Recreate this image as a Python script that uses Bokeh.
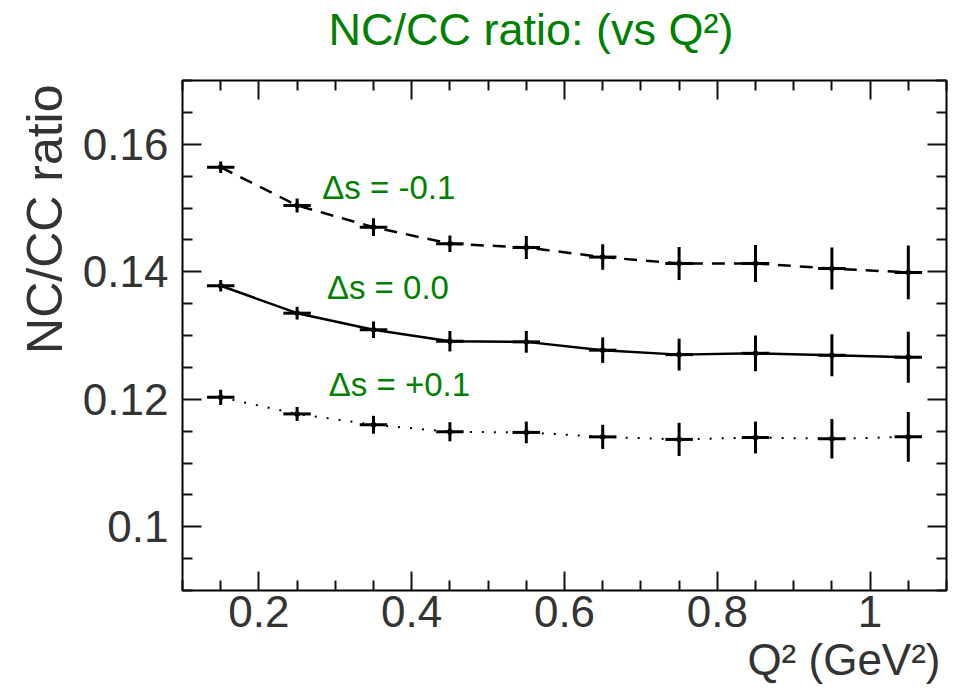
from bokeh.plotting import figure
from bokeh.models import (Range1d, LinearAxis, FixedTicker, CustomJSTickFormatter,
                          Label, Title)
from bokeh.embed import file_html
from bokeh.resources import INLINE

# ---- data ----
q2 = [0.15, 0.25, 0.35, 0.45, 0.55, 0.65, 0.75, 0.85, 0.95, 1.05]
q2_err = [0.018, 0.018, 0.018, 0.018, 0.018, 0.018, 0.018, 0.018, 0.018, 0.018]

ratio_minus = [0.1564, 0.1504, 0.1470, 0.1444, 0.1438, 0.1423, 0.1413, 0.1413, 0.1405, 0.1399]
err_minus = [0.0009, 0.0011, 0.0014, 0.0013, 0.0018, 0.0020, 0.0026, 0.0029, 0.0033, 0.0042]

ratio_zero = [0.1378, 0.1335, 0.1309, 0.1291, 0.1290, 0.1277, 0.1270, 0.1272, 0.1269, 0.1266]
err_zero = [0.0009, 0.0010, 0.0013, 0.0016, 0.0017, 0.0020, 0.0025, 0.0028, 0.0033, 0.0040]

ratio_plus = [0.1203, 0.1177, 0.1160, 0.1149, 0.1148, 0.1141, 0.1137, 0.1140, 0.1138, 0.1141]
err_plus = [0.0012, 0.0011, 0.0014, 0.0015, 0.0017, 0.0019, 0.0026, 0.0025, 0.0031, 0.0039]

series_labels = ["\u0394s = -0.1", "\u0394s = 0.0", "\u0394s = +0.1"]

x_major = [0.2, 0.4, 0.6, 0.8, 1.0]
x_minor = [0.1, 0.15, 0.25, 0.3, 0.35, 0.45, 0.5, 0.55, 0.65, 0.7, 0.75,
           0.85, 0.9, 0.95, 1.05, 1.1]
y_major = [0.10, 0.12, 0.14, 0.16]
y_minor = [0.09, 0.095, 0.105, 0.11, 0.115, 0.125, 0.13, 0.135, 0.145,
           0.15, 0.155, 0.165, 0.17]

GREEN = "#008000"
FONT = "Liberation Sans"
INK = "#333333"

p = figure(width=956, height=691, output_backend="svg", toolbar_location=None,
           x_range=Range1d(0.1, 1.1), y_range=Range1d(0.09, 0.17),
           min_border_left=182, min_border_right=10, min_border_top=80,
           min_border_bottom=101)
p.background_fill_color = "white"
p.border_fill_color = "white"
p.outline_line_color = "black"
p.outline_line_width = 2
p.xgrid.visible = False
p.ygrid.visible = False

# main title
p.title.text = "NC/CC ratio: (vs Q\u00b2)"
p.title.text_color = GREEN
p.title.text_font = FONT
p.title.text_font_size = "45px"
p.title.text_font_style = "normal"
p.title.align = "left"
p.title.offset = 146
p.title.standoff = 0

bottom_axis = p.below[0]
left_axis = p.left[0]
top_axis = LinearAxis()
right_axis = LinearAxis()
p.add_layout(top_axis, "above")
p.add_layout(right_axis, "right")

fmt = "return String(parseFloat(tick.toFixed(3)));"

def style_axis(ax, major, minor, labels, standoff):
    ax.ticker = FixedTicker(ticks=major, minor_ticks=minor)
    ax.major_tick_in = 19
    ax.major_tick_out = 0
    ax.minor_tick_in = 10
    ax.minor_tick_out = 0
    ax.major_tick_line_width = 2
    ax.minor_tick_line_width = 2
    ax.major_tick_line_color = "#111111"
    ax.minor_tick_line_color = "#111111"
    ax.axis_line_color = None
    ax.major_label_standoff = standoff
    if labels:
        ax.formatter = CustomJSTickFormatter(code=fmt)
        ax.major_label_text_font = FONT
        ax.major_label_text_font_size = "44px"
        ax.major_label_text_color = INK
    else:
        ax.formatter = CustomJSTickFormatter(code="return '';")
        ax.major_label_text_font_size = "0px"

style_axis(bottom_axis, x_major, x_minor, True, 5)
style_axis(top_axis, x_major, x_minor, False, 0)
style_axis(left_axis, y_major, y_minor, True, 14)
style_axis(right_axis, y_major, y_minor, False, 0)

# blank spacer label on the top axis to lift the title away from the frame
top_axis.axis_label = " "
top_axis.axis_label_text_font_size = "1px"
top_axis.axis_label_standoff = 22

# axis titles
p.add_layout(Title(text="Q\u00b2 (GeV\u00b2)", align="right", text_font=FONT,
                   text_font_size="44px", text_font_style="normal",
                   text_color=INK, standoff=6, offset=6), "below")
p.add_layout(Title(text="NC/CC ratio", align="right", text_font=FONT,
                   text_font_size="50px", text_font_style="normal",
                   text_color=INK, standoff=13, offset=4), "left")

series = [
    (ratio_minus, err_minus, "13 9", 2.5),
    (ratio_zero, err_zero, "solid", 2.5),
    (ratio_plus, err_plus, "2 10", 2),
]
for vals, errs, dash, lw in series:
    lo = [v - e for v, e in zip(vals, errs)]
    hi = [v + e for v, e in zip(vals, errs)]
    xl = [x - e for x, e in zip(q2, q2_err)]
    xh = [x + e for x, e in zip(q2, q2_err)]
    p.line(q2, vals, line_color="black", line_width=lw, line_dash=dash)
    p.segment(x0=q2, y0=lo, x1=q2, y1=hi, line_color="black", line_width=3)
    p.segment(x0=xl, y0=vals, x1=xh, y1=vals, line_color="black", line_width=3)
    p.scatter(q2, vals, size=5, color="black")

# series annotations
label_pos = [(0.283, 0.1532), (0.289, 0.1375), (0.2915, 0.1223)]
for (lx, ly), txt in zip(label_pos, series_labels):
    p.add_layout(Label(x=lx, y=ly, text=txt, text_color=GREEN, text_font=FONT,
                       text_font_size="33px", text_baseline="alphabetic",
                       text_align="left"))

open("out.html", "w").write(file_html(p, INLINE))
